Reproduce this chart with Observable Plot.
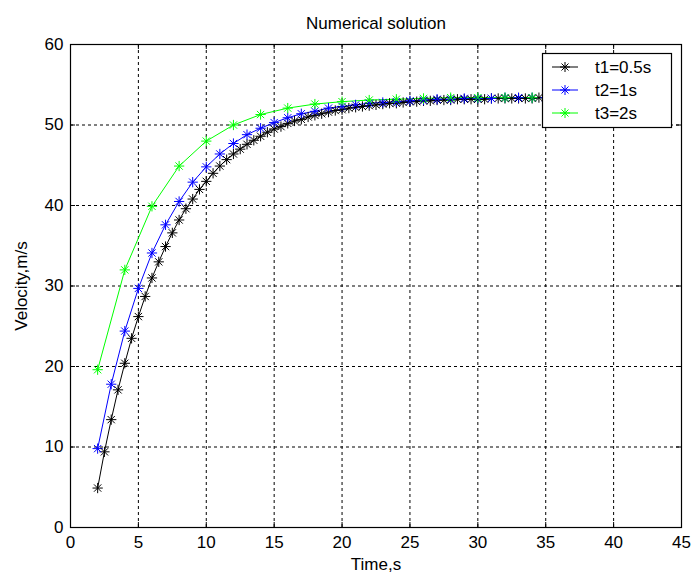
<!DOCTYPE html>
<html><head><meta charset="utf-8">
<script src="https://cdn.jsdelivr.net/npm/d3@7"></script>
<script src="https://cdn.jsdelivr.net/npm/@observablehq/plot@0.6"></script>
<style>
body{margin:0;background:#fff}
#chart{width:692px;height:574px}
</style>
</head><body><div id="chart"></div>
<script>
// Series names and colours (legend order)
const seriesNames = ["t1=0.5s", "t2=1s", "t3=2s"];
const seriesColors = ["#000000", "#0000ff", "#00ff00"];
// time step of each series and first plotted time
const seriesSteps = [0.5, 1, 2];
const firstTime = 2;

// velocities (m/s)
const velocity1 = [4.9, 9.4, 13.4, 17.1, 20.4, 23.5, 26.2, 28.7, 31.0, 33.0, 34.9, 36.6, 38.2, 39.6, 40.8, 42.0, 43.0, 44.0, 44.9, 45.7, 46.4, 47.0, 47.6, 48.1, 48.6, 49.1, 49.5, 49.8, 50.2, 50.5, 50.7, 51.0, 51.2, 51.4, 51.6, 51.8, 51.9, 52.1, 52.2, 52.3, 52.4, 52.5, 52.6, 52.7, 52.7, 52.8, 52.9, 52.9, 53.0, 53.0, 53.1, 53.1, 53.1, 53.2, 53.2, 53.2, 53.2, 53.2, 53.3, 53.3, 53.3, 53.3, 53.3, 53.3, 53.3, 53.4, 53.4, 53.4, 53.4, 53.4, 53.4, 53.4, 53.4, 53.4, 53.4, 53.4, 53.4];
const velocity2 = [9.8, 17.8, 24.4, 29.7, 34.1, 37.6, 40.5, 42.9, 44.8, 46.4, 47.7, 48.8, 49.6, 50.3, 50.9, 51.4, 51.7, 52.1, 52.3, 52.5, 52.7, 52.8, 52.9, 53.0, 53.1, 53.2, 53.2, 53.3, 53.3, 53.3, 53.4, 53.4, 53.4, 53.4, 53.4, 53.4, 53.4, 53.4, 53.4];
const velocity3 = [19.6, 32.0, 39.9, 44.9, 48.0, 50.0, 51.3, 52.1, 52.6, 52.9, 53.1, 53.2, 53.3, 53.4, 53.4, 53.4, 53.4, 53.4, 53.4, 53.4];

const xTicks = [0, 5, 10, 15, 20, 25, 30, 35, 40, 45];
const yTicks = [0, 10, 20, 30, 40, 50, 60];

const title = "Numerical solution";
const xLabel = "Time,s";
const yLabel = "Velocity,m/s";

const allVel = [velocity1, velocity2, velocity3];
const data = [];
allVel.forEach((vals, s) => vals.forEach((v, i) => data.push({series: seriesNames[s], t: firstTime + i * seriesSteps[s], v})));

const W = 692, H = 574, mL = 70, mR = 11, mT = 44, mB = 47;
const innerW = W - mL - mR, innerH = H - mT - mB;
const font = "'Liberation Sans', Arial, sans-serif";

const plot = Plot.plot({
  width: W, height: H,
  marginLeft: mL, marginRight: mR, marginTop: mT, marginBottom: mB,
  style: {fontFamily: font, fontSize: "17px", background: "#fff", color: "#000", overflow: "visible"},
  x: {domain: [0, 45], ticks: xTicks},
  y: {domain: [0, 60], ticks: yTicks},
  color: {domain: seriesNames, range: seriesColors},
  marks: [
    Plot.gridX(xTicks.slice(1, -1), {stroke: "#000", strokeOpacity: 1, strokeDasharray: "3,3"}),
    Plot.gridY(yTicks.slice(1, -1), {stroke: "#000", strokeOpacity: 1, strokeDasharray: "3,3"}),
    Plot.tickX(xTicks, {x: d => d, insetTop: innerH - 5, stroke: "#000"}),
    Plot.tickX(xTicks, {x: d => d, insetBottom: innerH - 5, stroke: "#000"}),
    Plot.tickY(yTicks, {y: d => d, insetRight: innerW - 5, stroke: "#000"}),
    Plot.tickY(yTicks, {y: d => d, insetLeft: innerW - 5, stroke: "#000"}),
    Plot.line(data, {x: "t", y: "v", z: "series", stroke: "series", strokeWidth: 1}),
    Plot.dot(data, {x: "t", y: "v", stroke: "series", symbol: "plus", r: 3.4, strokeWidth: 1}),
    Plot.dot(data, {x: "t", y: "v", stroke: "series", symbol: "times", r: 3.4, strokeWidth: 1}),
    Plot.frame({stroke: "#000", strokeWidth: 1.2}),
    Plot.axisX(xTicks, {tickSize: 0, tickPadding: 8, label: null, fontSize: 17}),
    Plot.axisY(yTicks, {tickSize: 0, tickPadding: 7, label: null, fontSize: 17}),
    Plot.text([title], {frameAnchor: "top", dy: -21, lineAnchor: "middle", textAnchor: "middle", fontSize: 17}),
    Plot.text([xLabel], {frameAnchor: "bottom", dy: 37, lineAnchor: "middle", textAnchor: "middle", fontSize: 17}),
    Plot.text([yLabel], {frameAnchor: "left", dx: -49, rotate: -90, lineAnchor: "middle", textAnchor: "middle", fontSize: 17})
  ]
});
document.getElementById("chart").appendChild(plot);

// legend box (upper right, inside the axes)
const svg = d3.select(plot);
const lg = svg.append("g").attr("font-family", font).attr("font-size", 17).attr("text-anchor", "start");
lg.append("rect").attr("x", 542.5).attr("y", 53.5).attr("width", 129).attr("height", 74)
  .attr("fill", "#fff").attr("stroke", "#000").attr("stroke-width", 1.2);
seriesNames.forEach((name, i) => {
  const y = 67 + i * 23;
  const c = seriesColors[i];
  lg.append("line").attr("x1", 552).attr("x2", 578).attr("y1", y).attr("y2", y).attr("stroke", c);
  lg.append("path").attr("d", `M565,${y-5}V${y+5}M560,${y}H570M561.5,${y-3.5}L568.5,${y+3.5}M561.5,${y+3.5}L568.5,${y-3.5}`)
    .attr("stroke", c).attr("fill", "none");
  lg.append("text").attr("x", 595).attr("y", y + 6).attr("text-anchor", "start").attr("fill", "#000").text(name);
});
</script>
</body></html>
